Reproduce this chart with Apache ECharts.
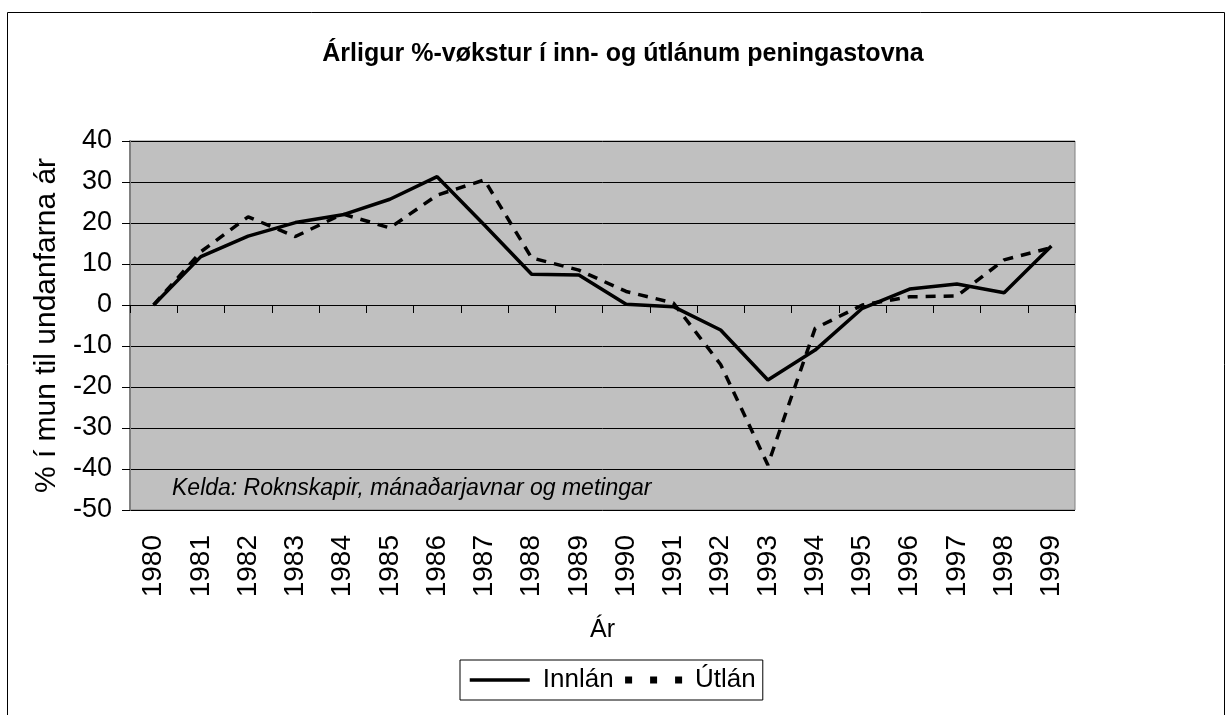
<!DOCTYPE html>
<html><head><meta charset="utf-8">
<script src="https://cdn.jsdelivr.net/npm/echarts@6/dist/echarts.min.js"></script>
<style>html,body{margin:0;padding:0;background:#fff}#c{width:1229px;height:715px}</style>
</head><body><div id="c"></div>
<script>
var years = ['1980','1981','1982','1983','1984','1985','1986','1987','1988','1989','1990','1991','1992','1993','1994','1995','1996','1997','1998','1999'];
var innlan = [0, 11.8, 16.8, 20.1, 22, 25.8, 31.3, 19.5, 7.5, 7.3, 0.2, -0.4, -6.1, -18.3, -11, -0.8, 3.9, 5.1, 3, 14.4];
var utlan = [0, 13, 21.5, 16.7, 22.2, 18.8, 26.8, 30.5, 11.5, 8.5, 3.3, 0.5, -14.5, -39, -5.7, 0, 2, 2.2, 11, 14];
var yTicks = [-50, -40, -30, -20, -10, 0, 10, 20, 30, 40];
var F = 'Liberation Sans, Arial, sans-serif';

var chart = echarts.init(document.getElementById('c'));
chart.setOption({
  animation: false,
  backgroundColor: '#fff',
  title: {
    text: 'Árligur %-vøkstur í inn- og útlánum peningastovna',
    left: 618, top: 37, textAlign: 'center',
    textStyle: {fontFamily: F, fontSize: 25, fontWeight: 'bold', color: '#000'}
  },
  grid: {left: 130, right: 154, top: 141, bottom: 205, show: true, backgroundColor: '#c0c0c0', borderColor: '#808080', borderWidth: 1, containLabel: false},
  legend: {
    data: [
      {name: 'Innlán', lineStyle: {width: 3.5, type: 'solid'}},
      {name: 'Útlán', lineStyle: {width: 7, type: [7, 18], dashOffset: -3}}
    ],
    left: 460, top: 660,
    itemWidth: 60, itemHeight: 14, itemGap: 5,
    padding: [7, 7, 7, 8],
    borderColor: '#000', borderWidth: 1, backgroundColor: '#fff',
    itemStyle: {opacity: 0},
    textStyle: {fontFamily: F, fontSize: 26, color: '#000', padding: [0, 0, 0, 8]}
  },
  xAxis: [{
    type: 'category', data: years, position: 'bottom',
    axisLine: {onZero: false, show: false}, axisTick: {show: false},
    axisLabel: {rotate: 90, fontFamily: F, fontSize: 28, color: '#000', margin: 25, interval: 0},
    name: 'Ár', nameLocation: 'middle', nameGap: 108,
    nameTextStyle: {fontFamily: F, fontSize: 25, color: '#000'}
  }, {
    type: 'category', data: years, position: 'bottom',
    axisLine: {onZero: true, show: true, lineStyle: {color: '#000', width: 1}},
    axisTick: {show: true, length: 8, interval: 0, lineStyle: {color: '#000'}},
    axisLabel: {show: false}
  }],
  yAxis: {
    type: 'value', min: -50, max: 40, interval: 10,
    axisLine: {show: true, lineStyle: {color: '#808080', width: 2}},
    axisTick: {show: true, length: 8, lineStyle: {color: '#000'}},
    splitLine: {show: true, lineStyle: {color: '#000', width: 1}},
    axisLabel: {fontFamily: F, fontSize: 27, color: '#000', margin: 18,
      formatter: function (v) { return yTicks.indexOf(v) >= 0 ? String(v) : ''; }},
    name: '% í mun til undanfarna ár', nameLocation: 'middle', nameGap: 17, nameRotate: 90,
    nameTextStyle: {fontFamily: F, fontSize: 30, color: '#000'}
  },
  series: [{
    name: 'Innlán', type: 'line', data: innlan, xAxisIndex: 0,
    symbol: 'none', lineStyle: {color: '#000', width: 3.5, type: 'solid'}, itemStyle: {color: '#000'}
  }, {
    name: 'Útlán', type: 'line', data: utlan, xAxisIndex: 0,
    symbol: 'none', lineStyle: {color: '#000', width: 3.5, type: [10, 8]}, itemStyle: {color: '#000'}
  }],
  graphic: [{
    type: 'rect', left: 5, top: 10, shape: {width: 1217, height: 710},
    style: {fill: 'none', stroke: '#000', lineWidth: 1}, silent: true, z: -1
  }, {
    type: 'text', left: 172, top: 477,
    style: {text: 'Kelda: Roknskapir, mánaðarjavnar og metingar', font: 'italic 23px ' + F, fill: '#000'}
  }]
});
</script></body></html>
